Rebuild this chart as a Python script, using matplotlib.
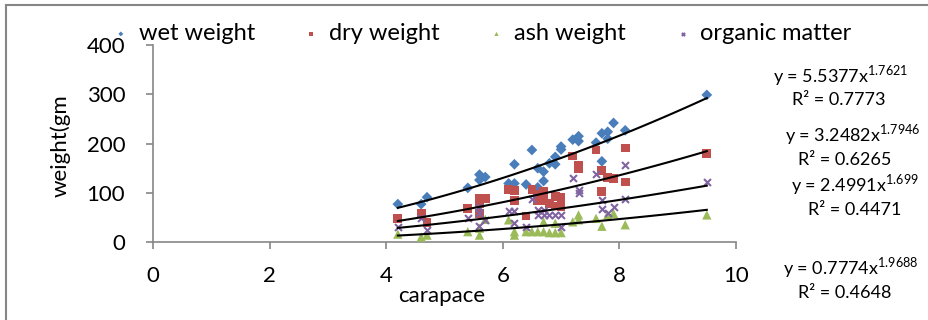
import numpy as np
import matplotlib
matplotlib.use("Agg")
import matplotlib.pyplot as plt
from matplotlib.lines import Line2D

plt.rcParams['font.family'] = ['Lato', 'DejaVu Sans']
plt.rcParams['mathtext.fontset'] = 'custom'
plt.rcParams['mathtext.rm'] = 'Lato'

# carapace (x) and weights (y)
wet_x = [4.2, 4.6, 4.7, 5.4, 5.6, 5.6, 5.7, 6.1, 6.2, 6.2, 6.4, 6.5, 6.6, 6.6, 6.7, 6.7,
         6.8, 6.9, 6.9, 7.0, 7.0, 7.2, 7.3, 7.3, 7.6, 7.7, 7.7, 7.8, 7.8, 7.9, 8.1, 9.5]
wet_y = [77, 77, 91, 110, 137, 126, 132, 119, 158, 119, 117, 187, 150, 111, 143, 124,
         160, 173, 158, 194, 188, 208, 215, 205, 202, 221, 164, 224, 210, 242, 227, 299]

dry_x = [4.2, 4.6, 4.7, 5.4, 5.6, 5.7, 5.6, 5.6, 6.1, 6.2, 6.2, 6.5, 6.6, 6.7, 6.6, 6.7,
         6.4, 6.8, 6.9, 6.9, 7.0, 7.0, 7.2, 7.3, 7.3, 7.6, 7.7, 7.7, 7.8, 7.9, 8.1, 8.1, 9.5]
dry_y = [48, 58, 40, 68, 89, 89, 58, 79, 107, 104, 85, 107, 97, 102, 85, 85,
         53, 79, 92, 73, 91, 72, 175, 156, 150, 187, 145, 102, 131, 129, 191, 122, 180]

ash_x = [4.2, 4.6, 4.7, 5.4, 5.6, 5.6, 5.7, 6.1, 6.2, 6.2, 6.4, 6.5, 6.6, 6.7, 6.7,
         6.8, 6.9, 6.9, 7.0, 7.2, 7.3, 7.3, 7.6, 7.7, 7.8, 7.9, 8.1, 9.5]
ash_y = [16, 10, 14, 21, 28, 14, 46, 45, 21, 14, 21, 21, 21, 41, 21,
         19, 19, 38, 19, 41, 55, 45, 48, 32, 55, 58, 35, 55]

org_x = [4.2, 4.6, 4.7, 5.4, 5.6, 5.6, 5.6, 5.7, 6.1, 6.2, 6.2, 6.5, 6.4, 6.6, 6.7, 6.6,
         6.7, 6.8, 6.9, 7.0, 7.0, 7.2, 7.3, 7.3, 7.6, 7.7, 7.7, 7.8, 7.9, 8.1, 8.1, 9.5]
org_y = [31, 48, 24, 48, 72, 58, 32, 45, 62, 62, 39, 87, 30, 66, 66, 55,
         55, 55, 55, 55, 30, 131, 106, 99, 139, 85, 68, 58, 72, 156, 87, 122]

# power trendlines y = a * x^b  (order: wet, dry, organic, ash)
fit_a = [5.5377, 3.2482, 2.4991, 0.7774]
fit_b = [1.7621, 1.7946, 1.699, 1.9688]
fit_r2 = ['0.7773', '0.6265', '0.4471', '0.4648']
fit_eq = ['5.5377', '3.2482', '2.4991', '0.7774']
fit_exp = ['1.7621', '1.7946', '1.699', '1.9688']

labels = ['wet weight', 'dry weight', 'ash weight', 'organic matter']
colors = ['#4A7EBB', '#C0504D', '#9BBB59', '#8064A2']
markers = ['D', 's', '^', 'x']
sizes = [30, 40, 45, 25]

fig = plt.figure(figsize=(9.29, 3.2), dpi=100)
ax = fig.add_axes([0.1647, 0.24375, 0.6275, 0.615])

xs = [wet_x, dry_x, ash_x, org_x]
ys = [wet_y, dry_y, ash_y, org_y]
handles = []
for x, y, c, m, s, lab in zip(xs, ys, colors, markers, sizes, labels):
    if m == 'x':
        h = ax.scatter(x, y, c=c, marker=m, s=s, linewidths=1.5, label=lab, zorder=3)
    else:
        h = ax.scatter(x, y, c=c, marker=m, s=s, edgecolors='none', label=lab, zorder=3)
    handles.append(h)

fit_x = [wet_x, dry_x, org_x, ash_x]
for a, b, x in zip(fit_a, fit_b, fit_x):
    xx = np.linspace(min(x), max(x), 100)
    ax.plot(xx, a * xx ** b, color='black', lw=1.5, zorder=4)

ax.set_xlim(0, 10)
ax.set_ylim(0, 400)
ax.set_xticks([0, 2, 4, 6, 8, 10])
ax.set_yticks([0, 100, 200, 300, 400])
for sp in ['top', 'right']:
    ax.spines[sp].set_visible(False)
for sp in ['left', 'bottom']:
    ax.spines[sp].set_color('#868686')
    ax.spines[sp].set_linewidth(1.2)
ax.tick_params(direction='out', length=5, width=1.2, color='#868686',
               labelsize=16)
ax.tick_params(axis='y', pad=15)
ax.tick_params(axis='x', pad=12)
ax.set_xlabel('carapace', fontsize=16)
ax.set_ylabel('weight(gm', fontsize=16)
ax.xaxis.set_label_coords(0.496, -0.225)
ax.yaxis.set_label_coords(-0.142, 0.49)
ax.patch.set_alpha(0)

fig.legend(handles=handles, labels=labels, loc='center', ncol=4,
           bbox_to_anchor=(0.517, 0.895), frameon=False, fontsize=17,
           markerscale=0.45, handletextpad=0.25, columnspacing=1.9,
           handlelength=1.0)

# equation annotations: (eq right edge, eq y, R2 centre x, R2 y)
eq_pos = [(0.978, 0.765, 0.903, 0.688), (0.991, 0.578, 0.909, 0.5),
          (0.989, 0.422, 0.92, 0.344), (0.989, 0.163, 0.909, 0.085)]
for (ex_r, y1, rx, y2), eq, ex, r2 in zip(eq_pos, fit_eq, fit_exp, fit_r2):
    fig.text(ex_r, y1, 'y = ' + eq + 'x$^{\\mathregular{' + ex + '}}$',
             ha='right', va='center', fontsize=13)
    fig.text(rx, y2, 'R² = ' + r2, ha='center', va='center', fontsize=13)

# chart area border: only top and left edges visible
fig.add_artist(Line2D([0.006, 1.0], [0.984, 0.984], transform=fig.transFigure,
                      color='#868686', lw=1.5))
fig.add_artist(Line2D([0.006, 0.006], [0.0, 0.984], transform=fig.transFigure,
                      color='#868686', lw=1.5))

fig.savefig('out.png', dpi=100)
